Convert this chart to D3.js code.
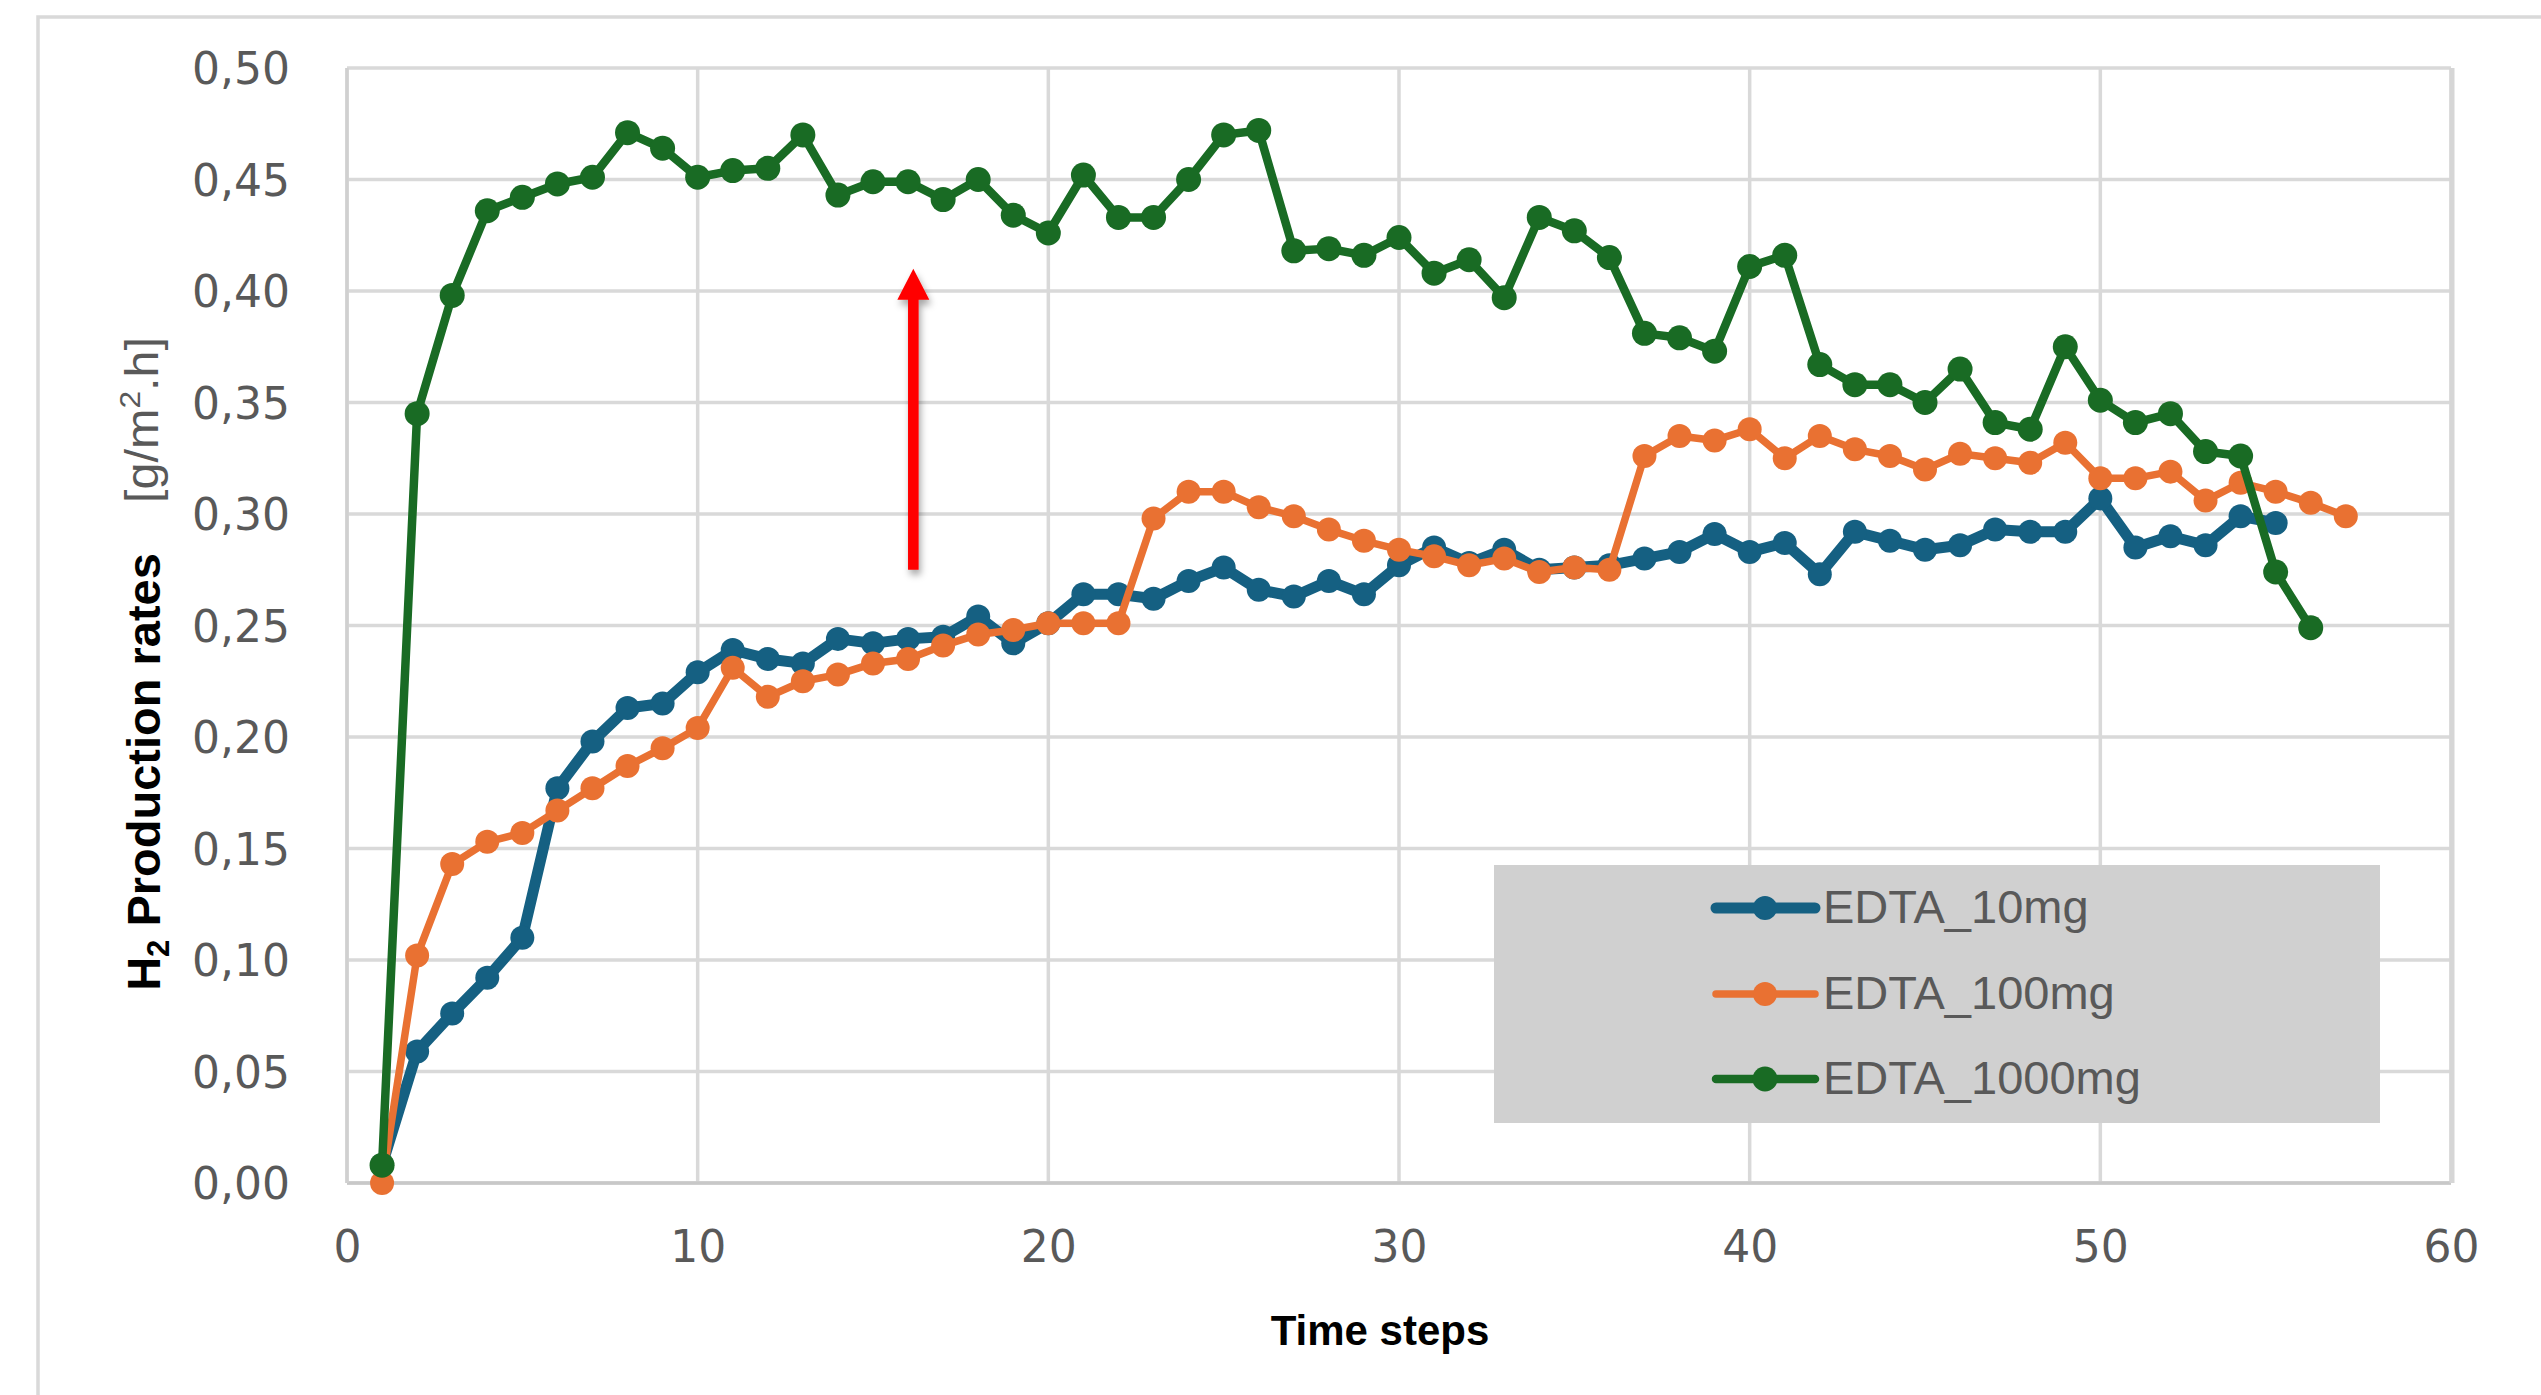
<!DOCTYPE html>
<html>
<head>
<meta charset="utf-8">
<script src="https://cdn.jsdelivr.net/npm/d3@7"></script>
<style>
  html, body { margin: 0; padding: 0; background: #ffffff; overflow: hidden; }
</style>
</head>
<body>
<svg id="chart" width="2541" height="1395"></svg>
<script>
// ---------------- DATA ----------------
const timeSteps = [1,2,3,4,5,6,7,8,9,10,11,12,13,14,15,16,17,18,19,20,
  21,22,23,24,25,26,27,28,29,30,31,32,33,34,35,36,37,38,39,40,
  41,42,43,44,45,46,47,48,49,50,51,52,53,54,55,56,57];

const seriesNames = ["EDTA_10mg", "EDTA_100mg", "EDTA_1000mg"];

const edta10mg = [0.008,0.059,0.076,0.092,0.110,0.177,0.198,0.213,0.215,0.229,
  0.239,0.235,0.233,0.244,0.242,0.244,0.245,0.254,0.242,0.251,
  0.264,0.264,0.262,0.270,0.276,0.266,0.263,0.270,0.264,0.277,
  0.285,0.278,0.284,0.275,0.276,0.277,0.280,0.283,0.291,0.283,
  0.287,0.273,0.292,0.288,0.284,0.286,0.293,0.292,0.292,0.307,
  0.285,0.290,0.286,0.299,0.296];

const edta100mg = [0.000,0.102,0.143,0.153,0.157,0.167,0.177,0.187,0.195,0.204,
  0.231,0.218,0.225,0.228,0.233,0.235,0.241,0.246,0.248,0.251,
  0.251,0.251,0.298,0.310,0.310,0.303,0.299,0.293,0.288,0.284,
  0.281,0.277,0.280,0.274,0.276,0.275,0.326,0.335,0.333,0.338,
  0.325,0.335,0.329,0.326,0.320,0.327,0.325,0.323,0.332,0.316,
  0.316,0.319,0.306,0.314,0.310,0.305,0.299];

const edta1000mg = [0.008,0.345,0.398,0.436,0.442,0.448,0.451,0.471,0.464,0.451,
  0.454,0.455,0.470,0.443,0.449,0.449,0.441,0.450,0.434,0.426,
  0.452,0.433,0.433,0.450,0.470,0.472,0.418,0.419,0.416,0.424,
  0.408,0.414,0.397,0.433,0.427,0.415,0.381,0.379,0.373,0.411,
  0.416,0.367,0.358,0.358,0.350,0.365,0.341,0.338,0.375,0.351,
  0.341,0.345,0.328,0.326,0.274,0.249];

const yTicks = [0,0.05,0.10,0.15,0.20,0.25,0.30,0.35,0.40,0.45,0.50];
const yTickLabels = ["0,00","0,05","0,10","0,15","0,20","0,25","0,30","0,35","0,40","0,45","0,50"];
const xTicks = [0,10,20,30,40,50,60];
const xTickLabels = ["0","10","20","30","40","50","60"];

// annotation arrow (data units)
const arrowStep = 16.15, arrowFrom = 0.275, arrowTo = 0.41;

// ---------------- STYLE ----------------
const colors = ["#156082", "#E97132", "#196B24"];
const lineWidths = [11, 7.5, 8.5];
const markerR = [12, 12, 12.5];

const svg = d3.select("#chart");
const x = d3.scaleLinear().domain([0, 60]).range([347, 2451]);
const y = d3.scaleLinear().domain([0, 0.5]).range([1183, 68]);

const defs = svg.append("defs");
const f = defs.append("filter").attr("id", "shadow")
  .attr("x", "-100%").attr("y", "-20%").attr("width", "300%").attr("height", "140%");
f.append("feDropShadow").attr("dx", 2).attr("dy", 5).attr("stdDeviation", 3.5)
  .attr("flood-color", "#000").attr("flood-opacity", 0.35);

// outer chart frame
svg.append("rect").attr("x", 38).attr("y", 17).attr("width", 2700).attr("height", 1600)
  .attr("fill", "#ffffff").attr("stroke", "#d9d9d9").attr("stroke-width", 3.5);

// gridlines
const grid = svg.append("g");
grid.selectAll("line.h").data(yTicks).join("line")
  .attr("x1", x(0)).attr("x2", x(60))
  .attr("y1", d => y(d)).attr("y2", d => y(d))
  .attr("stroke", "#d9d9d9").attr("stroke-width", 3.5);
grid.selectAll("line.v").data(xTicks).join("line")
  .attr("x1", d => x(d)).attr("x2", d => x(d))
  .attr("y1", y(0)).attr("y2", y(0.5))
  .attr("stroke", "#d9d9d9").attr("stroke-width", 3.5);
// axis base lines
svg.append("line").attr("x1", x(0)).attr("x2", x(60)).attr("y1", y(0)).attr("y2", y(0))
  .attr("stroke", "#c8c8c8").attr("stroke-width", 3.5);
svg.append("line").attr("x1", x(0)).attr("x2", x(0)).attr("y1", y(0)).attr("y2", y(0.5))
  .attr("stroke", "#d0d0d0").attr("stroke-width", 3.5);
svg.append("line").attr("x1", x(60) + 1).attr("x2", x(60) + 1).attr("y1", y(0)).attr("y2", y(0.5))
  .attr("stroke", "#d6d6d6").attr("stroke-width", 5);

// axes
const tickFont = "'DejaVu Sans', 'Liberation Sans', Arial, sans-serif";
const yAxis = svg.append("g").attr("transform", `translate(${x(0)},0)`)
  .call(d3.axisLeft(y).tickValues(yTicks).tickFormat((d, i) => yTickLabels[i]).tickSize(0).tickPadding(57));
yAxis.select(".domain").remove();
yAxis.selectAll("text").attr("font-size", 44).attr("font-family", tickFont)
  .attr("fill", "#595959").attr("dy", "0.36em");

const xAxis = svg.append("g").attr("transform", `translate(0,${y(0)})`)
  .call(d3.axisBottom(x).tickValues(xTicks).tickFormat((d, i) => xTickLabels[i]).tickSize(0).tickPadding(48));
xAxis.select(".domain").remove();
xAxis.selectAll("text").attr("font-size", 44).attr("font-family", tickFont)
  .attr("fill", "#595959");

// axis titles
svg.append("text").attr("x", 1380).attr("y", 1345)
  .attr("text-anchor", "middle").attr("font-family", "'Liberation Sans', Arial, sans-serif")
  .attr("font-weight", "bold").attr("font-size", 42).attr("fill", "#000")
  .text("Time steps");

const yt = svg.append("text").attr("transform", "translate(160,772) rotate(-90)")
  .attr("text-anchor", "middle").attr("font-family", "'Liberation Sans', Arial, sans-serif")
  .attr("font-weight", "bold").attr("font-size", 47).attr("fill", "#000");
yt.append("tspan").text("H");
yt.append("tspan").attr("font-size", 31).attr("dy", 9).text("2");
yt.append("tspan").attr("dy", -9).text(" Production rates");

const ut = svg.append("text").attr("transform", "translate(158,420) rotate(-90)")
  .attr("text-anchor", "middle").attr("font-family", "'Liberation Sans', Arial, sans-serif")
  .attr("font-size", 46).attr("fill", "#595959")
  .attr("textLength", 166).attr("lengthAdjust", "spacingAndGlyphs");
ut.append("tspan").text("[g/m");
ut.append("tspan").attr("font-size", 30).attr("dy", -18).text("2");
ut.append("tspan").attr("dy", 18).text(".h]");

// series
const seriesValues = [edta10mg, edta100mg, edta1000mg];
const line = d3.line().x(d => x(d.t)).y(d => y(d.v));
seriesValues.forEach((vals, i) => {
  const data = vals.map((v, k) => ({ t: timeSteps[k], v }));
  const g = svg.append("g");
  g.append("path").datum(data).attr("d", line)
    .attr("fill", "none").attr("stroke", colors[i]).attr("stroke-width", lineWidths[i])
    .attr("stroke-linejoin", "round").attr("stroke-linecap", "round");
  g.selectAll("circle").data(data).join("circle")
    .attr("cx", d => x(d.t)).attr("cy", d => y(d.v)).attr("r", markerR[i])
    .attr("fill", colors[i]);
});

// red arrow annotation
const ax = x(arrowStep), ayBottom = y(arrowFrom), ayTip = y(arrowTo);
const headLen = 31, headHalf = 16, shaftHalf = 5.3;
svg.append("path")
  .attr("d", `M${ax - shaftHalf},${ayBottom} L${ax - shaftHalf},${ayTip + headLen} L${ax - headHalf},${ayTip + headLen} L${ax},${ayTip} L${ax + headHalf},${ayTip + headLen} L${ax + shaftHalf},${ayTip + headLen} L${ax + shaftHalf},${ayBottom} Z`)
  .attr("fill", "#ff0000").attr("filter", "url(#shadow)");

// legend
const lg = svg.append("g");
lg.append("rect").attr("x", 1494).attr("y", 865).attr("width", 886).attr("height", 258)
  .attr("fill", "#d0d0d0");
const rowY = [908, 994, 1079];
seriesNames.forEach((name, i) => {
  lg.append("line").attr("x1", 1716).attr("x2", 1815).attr("y1", rowY[i]).attr("y2", rowY[i])
    .attr("stroke", colors[i]).attr("stroke-width", lineWidths[i]).attr("stroke-linecap", "round");
  lg.append("circle").attr("cx", 1765).attr("cy", rowY[i]).attr("r", markerR[i]).attr("fill", colors[i]);
  lg.append("text").attr("x", 1823).attr("y", rowY[i] + 15)
    .attr("font-family", "'Liberation Sans', Arial, sans-serif").attr("font-size", 47)
    .attr("fill", "#595959").text(name);
});
</script>
</body>
</html>
